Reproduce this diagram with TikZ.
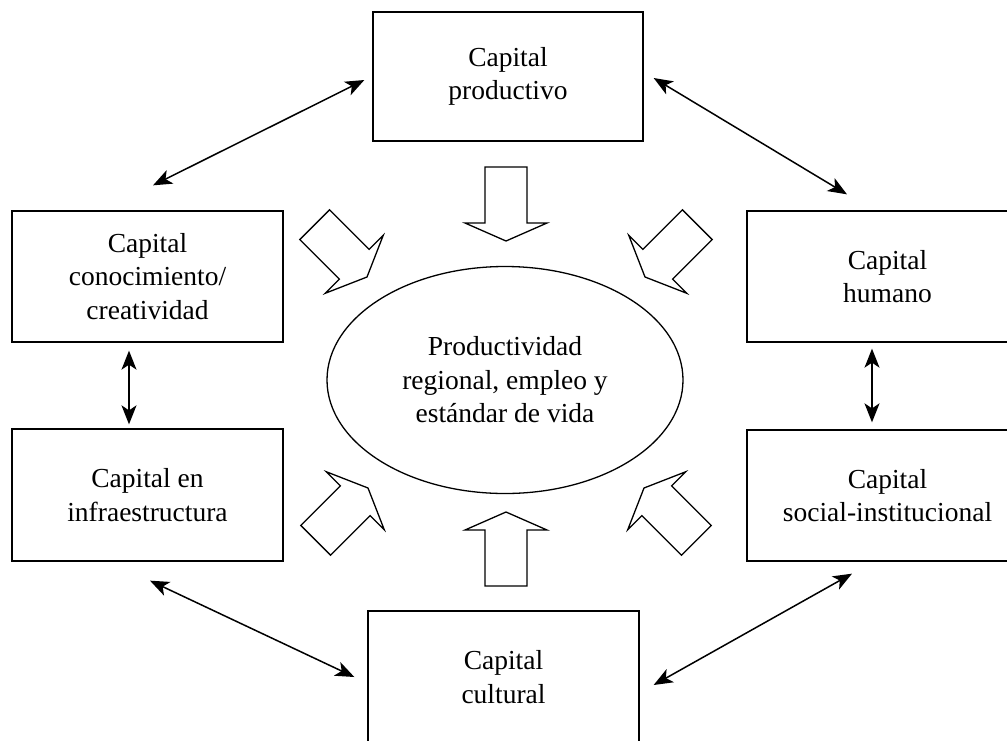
\documentclass[tikz,border=0pt]{standalone}
\usepackage{fontspec}
\setmainfont{Liberation Serif}
\usetikzlibrary{arrows.meta,shapes.geometric}

\begin{document}
\begin{tikzpicture}[x=1pt, y=1pt,
    capbox/.style={draw, line width=1.3pt, minimum width=271pt, minimum height=131pt,
        align=center, font=\fontsize{27.5}{33.5}\selectfont},
    both/.style={{Stealth[length=19pt,width=15pt,inset=5pt]}-{Stealth[length=19pt,width=15pt,inset=5pt]}, line width=1.5pt},
    bigarrow/.style={line width=1.3pt, line join=miter}]
    \clip (0, 0) rectangle (1007, -740);

    % Capital boxes
    \node[capbox, minimum width=270pt, minimum height=129pt] (prod) at (508, -76.5) {Capital\\productivo};
    \node[capbox] (conoc) at (147.5, -276.5) {Capital\\conocimiento/\\creatividad};
    \node[capbox, minimum height=132pt] (infra) at (147.5, -495) {Capital en\\infraestructura};
    \node[capbox, minimum width=281pt] (humano) at (887.5, -276.5) {Capital\\humano};
    \node[capbox, minimum width=281pt] (social) at (887.5, -495.5) {Capital\\social-institucional};
    \node[capbox, minimum height=132pt] (cultural) at (503.5, -677) {Capital\\cultural};

    % Centre
    \node[draw, ellipse, line width=1.3pt, minimum width=356pt, minimum height=227pt,
        align=center, font=\fontsize{27.5}{33.5}\selectfont] (prodreg) at (505, -380)
        {Productividad\\regional, empleo y\\estándar de vida};

    % Block arrows towards the centre
    \foreach \tx/\ty/\ang in {506/-241/-90, 506/-512/90, 367/-277/-45, 645/-277/-135, 368/-488/45, 644/-488/135}
        \draw[bigarrow, shift={(\tx,\ty)}, rotate=\ang]
            (0, 0) -- (-18, 41) -- (-18, 21) -- (-74, 21) -- (-74, -21) -- (-18, -21) -- (-18, -41) -- cycle;

    % Links between capitals
    \draw[both] ([shift={(5.5,25)}]conoc.north) -- ([shift={(-8,-3.5)}]prod.west);
    \draw[both] ([shift={(10,-1.5)}]prod.east) -- ([shift={(-40.5,16)}]humano.north);
    \draw[both] ([shift={(-18.5,-8)}]conoc.south) -- ([shift={(-18.5,4)}]infra.north);
    \draw[both] ([shift={(-15.5,-6)}]humano.south) -- ([shift={(-15.5,7)}]social.north);
    \draw[both] ([shift={(2.5,-19)}]infra.south) -- ([shift={(-13,0)}]cultural.west);
    \draw[both] ([shift={(14,-8)}]cultural.east) -- ([shift={(-35.5,-12)}]social.south);
\end{tikzpicture}
\end{document}
